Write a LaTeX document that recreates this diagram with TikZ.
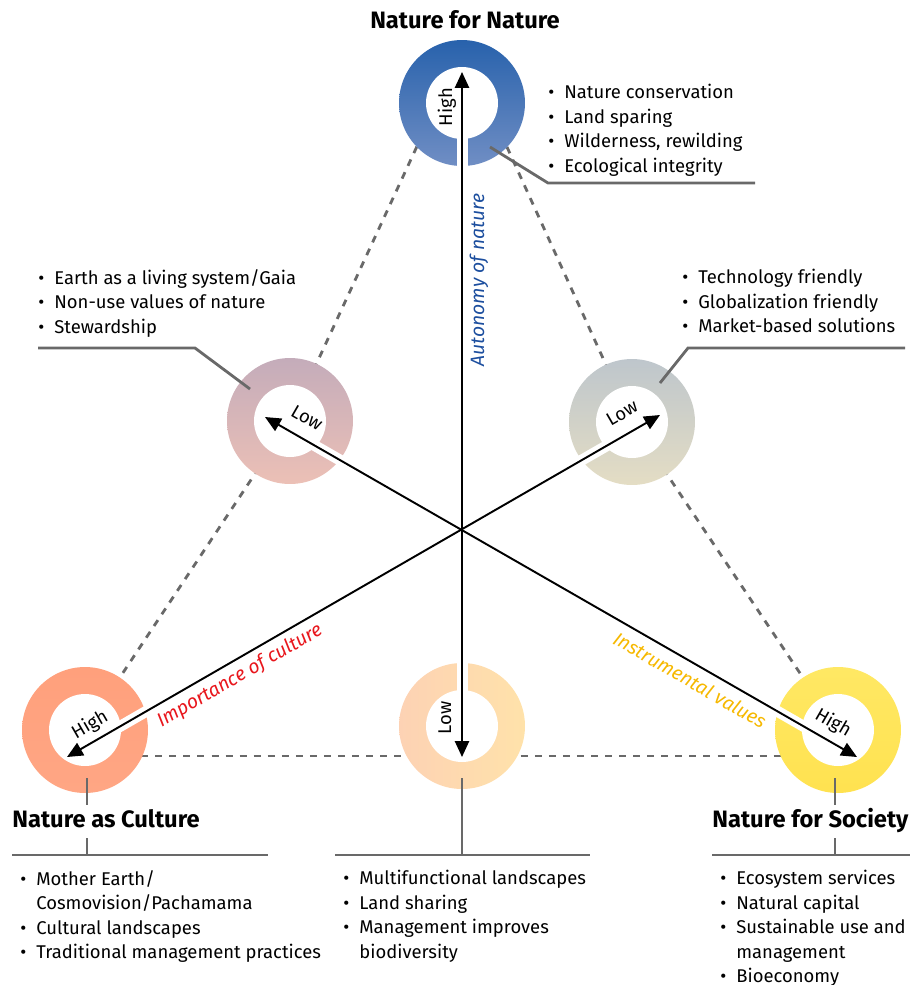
\documentclass[tikz,border=0pt]{standalone}
\usepackage{fontspec}
\setmainfont{Fira Sans}
\usetikzlibrary{arrows.meta}

\definecolor{autoblue}{RGB}{28,78,158}
\definecolor{culturered}{RGB}{232,22,28}
\definecolor{instrgold}{RGB}{246,184,0}
\definecolor{linegray}{RGB}{105,105,105}
\newcommand{\bul}{\makebox[0.32cm][l]{\textbullet}}
\newcommand{\nobul}{\hspace*{0.32cm}}

\begin{document}
\begin{tikzpicture}[x=0.02cm, y=-0.02cm,
	title/.style={font=\fontsize{13.5}{15}\selectfont\bfseries, inner sep=0pt},
	bullets/.style={align=left, anchor=north west, inner sep=0pt, font=\fontsize{10.5}{13.9}\selectfont},
	ringlabel/.style={font=\fontsize{10.5}{12}\selectfont, inner sep=0pt},
	axislabel/.style={font=\fontsize{11}{12}\selectfont\itshape, inner sep=0pt},
	axis/.style={{Triangle[length=9pt,width=8pt]}-{Triangle[length=9pt,width=8pt]}, line width=1.1pt},
	halo/.style={white, line width=0.22cm},
	tie/.style={linegray, line width=1.6pt, dash pattern=on 4pt off 4pt},
	callout/.style={linegray, line width=1.6pt}]
	\useasboundingbox (0,0) rectangle (910,985);
	% ring centres
	\coordinate (nn) at (462,103);
	\coordinate (gaia) at (290,421);
	\coordinate (tech) at (632,422);
	\coordinate (nc) at (85,730);
	\coordinate (mid) at (462,726);
	\coordinate (ns) at (838,730);
	% arrow tips
	\coordinate (tipN) at (462,72);
	\coordinate (tipM) at (462,757);
	\coordinate (tipW) at (265,417);
	\coordinate (tipSE) at (857,757);
	\coordinate (tipE) at (660,415);
	\coordinate (tipSW) at (67,757);
	% dashed triangle
	\draw[tie] (gaia) -- ([xshift=-0.5cm]nn);
	\draw[tie] (tech) -- ([xshift=0.5cm]nn);
	\draw[tie] (gaia) -- (nc);
	\draw[tie] (tech) -- (ns);
	\draw[tie] ([yshift=-0.52cm]nc) -- ([yshift=-0.52cm]ns);
	% rings
	\shade[top color={rgb,255:red,40;green,98;blue,172}, bottom color={rgb,255:red,112;green,142;blue,196}] (nn) circle (1.26cm);
	\shade[top color={rgb,255:red,196;green,172;blue,186}, bottom color={rgb,255:red,236;green,192;blue,182}] (gaia) circle (1.26cm);
	\shade[top color={rgb,255:red,190;green,198;blue,204}, bottom color={rgb,255:red,228;green,221;blue,196}] (tech) circle (1.26cm);
	\shade[top color={rgb,255:red,255;green,160;blue,124}, bottom color={rgb,255:red,255;green,166;blue,132}] (nc) circle (1.26cm);
	\shade[left color={rgb,255:red,253;green,210;blue,180}, right color={rgb,255:red,255;green,226;blue,170}] (mid) circle (1.26cm);
	\shade[top color={rgb,255:red,255;green,232;blue,100}, bottom color={rgb,255:red,255;green,226;blue,80}] (ns) circle (1.26cm);
	\foreach \c in {nn,gaia,tech,nc,mid,ns}
	  \fill[white] (\c) circle (0.72cm);
	% callouts
	\draw[callout] (490,147) -- (548,183) -- (755,183);
	\draw[callout] (250,389) -- (195,348) -- (38,348);
	\draw[callout] (660,383) -- (688,348) -- (905,348);
	\draw[callout] (nc) ++(2,48) -- ++(0,27);
	\draw[callout] (ns) ++(-3,48) -- ++(0,27);
	\draw[callout] (87,838) -- (87,855) (12,855) -- (268,855);
	\draw[callout] (mid) ++(0,52) -- (462,855) (335,855) -- (590,855);
	\draw[callout] (835,838) -- (835,855) (712,855) -- (910,855);
	% axes
	\draw[halo] (tipN) -- (tipM);
	\draw[halo] (tipW) -- (tipSE);
	\draw[halo] (tipE) -- (tipSW);
	\draw[axis] (tipM) -- (tipN);
	\draw[axis] (tipW) -- (tipSE);
	\draw[axis] (tipE) -- (tipSW);
	\node[axislabel, autoblue, rotate=90] (autonomy) at (479,280) {Autonomy of nature};
	\node[axislabel, culturered, rotate=30] (culture) at (240,676) {Importance of culture};
	\node[axislabel, instrgold, rotate=-30] (instrumental) at (690,680) {Instrumental values};
	% High / Low
	\node[ringlabel, rotate=90] (hiN) at (447,107) {High};
	\node[ringlabel, rotate=-30] (loW) at (307,418) {Low};
	\node[ringlabel, rotate=30] (loE) at (622,413) {Low};
	\node[ringlabel, rotate=30] (hiSW) at (90,725) {High};
	\node[ringlabel, rotate=90] (loM) at (445,718) {Low};
	\node[ringlabel, rotate=-30] (hiSE) at (833,723) {High};
	% titles
	\node[title, anchor=base] (tnn) at (465,28) {Nature for Nature};
	\node[title, anchor=base west] (tnc) at (12,827) {Nature as Culture};
	\node[title, anchor=base west] (tns) at (712,827) {Nature for Society};
	% lists
	\node[bullets] (lnn) at (548,84) {\bul Nature conservation\\\bul Land sparing\\\bul Wilderness, rewilding\\\bul Ecological integrity};
	\node[bullets] (lgaia) at (38,269) {\bul Earth as a living system/Gaia\\\bul Non-use values of nature\\\bul Stewardship};
	\node[bullets] (ltech) at (682,269) {\bul Technology friendly\\\bul Globalization friendly\\\bul Market-based solutions};
	\node[bullets] (lnc) at (20,870) {\bul Mother Earth/\\\nobul Cosmovision/Pachamama\\\bul Cultural landscapes\\\bul Traditional management practices};
	\node[bullets] (lmid) at (343,870) {\bul Multifunctional landscapes\\\bul Land sharing\\\bul Management improves\\\nobul biodiversity};
	\node[bullets] (lns) at (720,870) {\bul Ecosystem services\\\bul Natural capital\\\bul Sustainable use and\\\nobul management\\\bul Bioeconomy};
\end{tikzpicture}
\end{document}
